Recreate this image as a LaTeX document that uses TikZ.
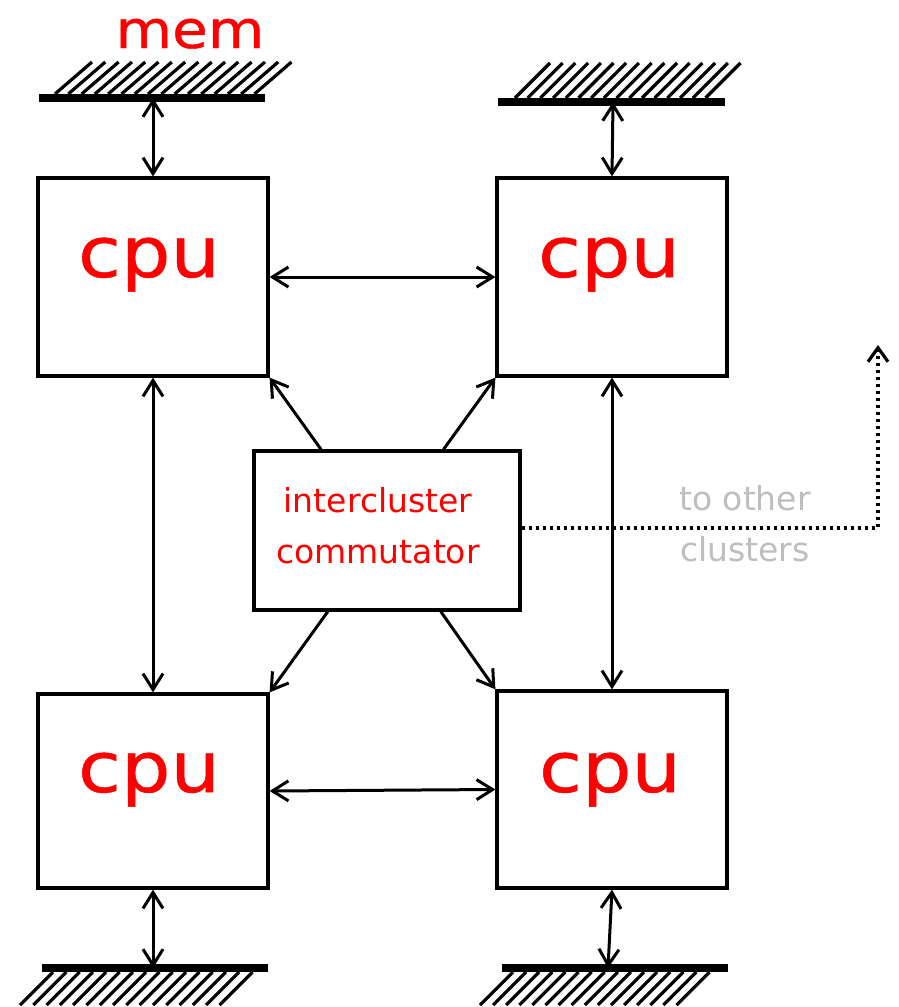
\documentclass[tikz,border=0pt]{standalone}
\usepackage{fontspec}
\setmainfont{DejaVu Sans}
\newfontfamily\heavyfont[FakeBold=0.7]{DejaVu Sans}
\usetikzlibrary{arrows.meta,calc}
\definecolor{lblgray}{HTML}{BEBEBE}
\begin{document}
\begin{tikzpicture}[x=1pt,y=-1pt,
  box/.style={draw, line width=3.2pt, inner sep=0pt, minimum width=230pt},
  bi/.style={line width=3pt, {Straight Barb[length=16pt,width=20pt]}-{Straight Barb[length=16pt,width=20pt]}},
  uni/.style={line width=3pt, -{Straight Barb[length=16pt,width=20pt]}},
  cputext/.style={anchor=base, text=red, font=\heavyfont\fontsize{78}{90}\selectfont, inner sep=0pt},
  bar/.style={line width=7.5pt},
  hatch/.style={line width=3.2pt},
]
\useasboundingbox[fill=white] (0,0) rectangle (898,1007);

% cpu boxes
\node[box, minimum height=198pt] (c1) at (153,277) {};
\node[box, minimum height=198pt] (c2) at (612,277) {};
\node[box, minimum height=194pt] (c3) at (153,791) {};
\node[box, minimum height=197pt] (c4) at (612,789.5) {};
\node[cputext] (t1) at (149,277) {\scalebox{1}[0.9]{cpu}};
\node[cputext] (t2) at (609,277) {\scalebox{1}[0.9]{cpu}};
\node[cputext] (t3) at (149,792) {\scalebox{1}[0.9]{cpu}};
\node[cputext] (t4) at (610,792) {\scalebox{1}[0.9]{cpu}};

% commutator
\node[box, minimum width=266pt, minimum height=159pt] (comm) at (387,530.5) {};
\node[text=red, align=center, inner sep=0pt, font=\fontsize{33}{51}\selectfont] (commtext) at (378,526) {intercluster\\commutator};

% memory bars
\node[anchor=base, text=red, inner sep=0pt, font=\heavyfont\fontsize{58}{68}\selectfont] (memlbl) at (190,48) {\scalebox{1}[0.9]{mem}};
\coordinate (m1) at (153,98);
\coordinate (m2) at (613,102);
\coordinate (m3) at (153,968);
\coordinate (m4) at (608,968);
\draw[bar] (39,98) -- (265,98);
\foreach \i in {0,...,15} \draw[hatch] (55+13.3*\i,94) -- ++(37,-32);
\draw[bar] (498,102) -- (725,102);
\foreach \i in {0,...,15} \draw[hatch] (515+12.7*\i,98) -- ++(35,-35);
\draw[bar] (42,968) -- (268,968);
\foreach \i in {0,...,15} \draw[hatch] (53+13.3*\i,972) -- ++(-33,33);
\draw[bar] (502,968) -- (728,968);
\foreach \i in {0,...,15} \draw[hatch] (513+13.1*\i,972) -- ++(-33,33);

% memory links
\draw[bi] (m1) -- (c1.north);
\draw[bi] (m2) -- (c2.north);
\draw[bi] (c3.south) -- (m3);
\draw[bi] (c4.south) -- (m4);

% cpu links
\draw[bi] (c1.east) -- (c2.west);
\draw[bi] (c3.east) -- (c4.west);
\draw[bi] (c1.south) -- (c3.north);
\draw[bi] (c2.south) -- (c4.north);

% commutator links
\draw[uni] ($(comm.north west)!0.255!(comm.north east)$) -- (c1.south east);
\draw[uni] ($(comm.north west)!0.71!(comm.north east)$) -- (c2.south west);
\draw[uni] ($(comm.south west)!0.28!(comm.south east)$) -- (c3.north east);
\draw[uni] ($(comm.south west)!0.70!(comm.south east)$) -- (c4.north west);

% to other clusters
\coordinate (corner) at (878,528);
\coordinate (up) at (878,345);
\draw[line width=3.2pt, dash pattern=on 3.5pt off 3.5pt, -{Straight Barb[length=14pt,width=20pt]}] (comm.east |- corner) -- (corner) -- (up);
\node[text=lblgray, align=center, inner sep=0pt, font=\fontsize{33}{51}\selectfont] (other) at (745,524) {to other\\clusters};
\end{tikzpicture}
\end{document}
